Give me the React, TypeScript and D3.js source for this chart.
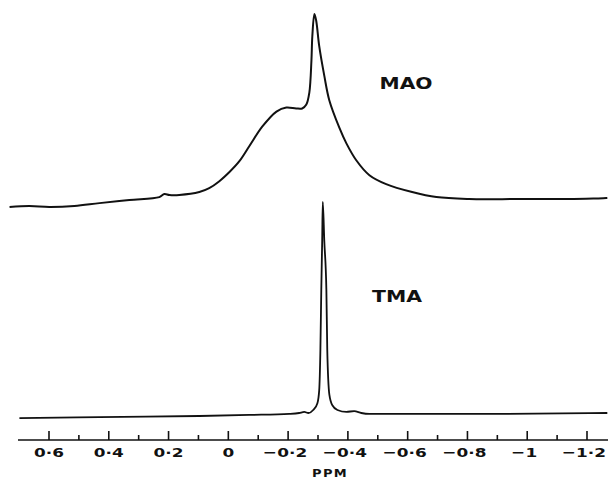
import React from "react";
import * as d3 from "d3";

// MAO spectrum (ppm, relative intensity)
const maoPpm = [0.732, 0.666, 0.599, 0.515, 0.431, 0.331, 0.231, 0.214, 0.197, 0.164, 0.097, 0.064, 0.03, -0.003, -0.037, -0.07, -0.114, -0.161, -0.194, -0.227, -0.247, -0.261, -0.271, -0.278, -0.281, -0.288, -0.294, -0.304, -0.321, -0.338, -0.371, -0.395, -0.428, -0.472, -0.528, -0.615, -0.696, -0.806, -0.973, -1.14, -1.268];
const maoInt = [0, 0.5, 0, 0.5, 2, 3.6, 5.1, 6.7, 6.2, 6.2, 7.7, 9.7, 13.3, 17.9, 23.6, 31.3, 41.5, 49.2, 51.3, 50.8, 50.8, 52.8, 59, 75.4, 88, 99.5, 96, 83, 67.7, 54.9, 41, 32.8, 24.1, 16.4, 11.8, 7.7, 5.1, 4.1, 4.1, 4.1, 4.6];

// TMA spectrum (ppm, relative intensity)
const tmaPpm = [0.699, 0.431, 0.097, -0.07, -0.204, -0.237, -0.254, -0.268, -0.284, -0.298, -0.304, -0.308, -0.311, -0.314, -0.316, -0.321, -0.328, -0.331, -0.338, -0.348, -0.365, -0.395, -0.421, -0.445, -0.472, -0.572, -0.906, -1.268];
const tmaInt = [-1, -0.5, 0, 0.5, 1, 1.4, 1.9, 1.4, 2.8, 6, 12, 31, 59, 82, 100, 82, 59, 31, 10, 5, 2.8, 1.9, 2.3, 1.4, 1, 1, 1, 1.4];

const majorTicks = [0.6, 0.4, 0.2, 0, -0.2, -0.4, -0.6, -0.8, -1, -1.2];
const majorLabels = ["0·6", "0·4", "0·2", "0", "−0·2", "−0·4", "−0·6", "−0·8", "−1", "−1·2"];
const minorTicks = [0.5, 0.3, 0.1, -0.1, -0.3, -0.5, -0.7, -0.9, -1.1];
const axisTitle = "PPM";
const seriesNames = ["MAO", "TMA"];

export default function App() {
  const x = d3.scaleLinear().domain([0.6, -1.2]).range([49, 587]);
  const yMao = d3.scaleLinear().domain([0, 100]).range([207, 13]);
  const yTma = d3.scaleLinear().domain([0, 100]).range([416, 202]);
  const axisY = 440;
  const font = "'DejaVu Sans', sans-serif";

  const lineMao = d3
    .line<number>()
    .x((_, i) => x(maoPpm[i]))
    .y((d) => yMao(d))
    .curve(d3.curveCatmullRom.alpha(0.5));
  const lineTma = d3
    .line<number>()
    .x((_, i) => x(tmaPpm[i]))
    .y((d) => yTma(d))
    .curve(d3.curveMonotoneX);

  return (
    <svg
      width={608}
      height={481}
      style={{ position: "absolute", left: 0, top: 0, background: "#fff" }}
    >
      <path d={lineMao(maoInt) || ""} fill="none" stroke="#111" strokeWidth={2} strokeLinejoin="round" />
      <path d={lineTma(tmaInt) || ""} fill="none" stroke="#111" strokeWidth={1.8} strokeLinejoin="round" />

      <line x1={18} x2={608} y1={axisY} y2={axisY} stroke="#111" strokeWidth={1.6} />
      {majorTicks.map((t) => (
        <line key={"M" + t} x1={x(t)} x2={x(t)} y1={axisY} y2={axisY - 9} stroke="#111" strokeWidth={1.6} />
      ))}
      {minorTicks.map((t) => (
        <line key={"m" + t} x1={x(t)} x2={x(t)} y1={axisY} y2={axisY - 5} stroke="#111" strokeWidth={1.6} />
      ))}
      {majorTicks.map((t, i) => (
        <text
          key={"L" + t}
          transform={`translate(${x(t) - (t < 0 ? 3 : 0)},456.5) scale(1.3,1)`}
          textAnchor="middle"
          fontFamily={font}
          fontWeight="bold"
          fontSize={13}
          fill="#111"
        >
          {majorLabels[i]}
        </text>
      ))}
      <text
        transform={`translate(330,477) scale(1.3,1)`}
        textAnchor="middle"
        fontFamily={font}
        fontWeight="bold"
        fontSize={10}
        letterSpacing={1}
        fill="#111"
      >
        {axisTitle}
      </text>
      <text
        transform={`translate(406,89) scale(1.35,1)`}
        textAnchor="middle"
        fontFamily={font}
        fontWeight="bold"
        fontSize={15}
        fill="#111"
      >
        {seriesNames[0]}
      </text>
      <text
        transform={`translate(397,302) scale(1.36,1)`}
        textAnchor="middle"
        fontFamily={font}
        fontWeight="bold"
        fontSize={15}
        fill="#111"
      >
        {seriesNames[1]}
      </text>
    </svg>
  );
}
